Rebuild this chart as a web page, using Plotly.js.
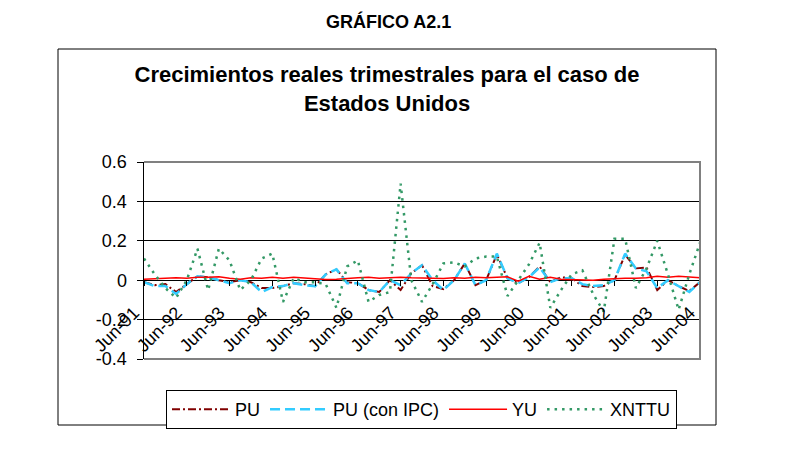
<!DOCTYPE html>
<html>
<head>
<meta charset="utf-8">
<script src="https://cdn.plot.ly/plotly-3.0.1.min.js"></script>
<style>html,body{margin:0;padding:0;background:#fff;}#chart{width:798px;height:459px;}</style>
</head>
<body>
<div id="chart"></div>
<script>
var quarters = ["Jun-91","Sep-91","Dic-91","Mar-92","Jun-92","Sep-92","Dic-92","Mar-93","Jun-93","Sep-93","Dic-93","Mar-94",
"Jun-94","Sep-94","Dic-94","Mar-95","Jun-95","Sep-95","Dic-95","Mar-96","Jun-96","Sep-96","Dic-96","Mar-97",
"Jun-97","Sep-97","Dic-97","Mar-98","Jun-98","Sep-98","Dic-98","Mar-99","Jun-99","Sep-99","Dic-99","Mar-00",
"Jun-00","Sep-00","Dic-00","Mar-01","Jun-01","Sep-01","Dic-01","Mar-02","Jun-02","Sep-02","Dic-02","Mar-03",
"Jun-03","Sep-03","Dic-03","Mar-04","Jun-04"];
var xTickLabels = ["Jun-91","Jun-92","Jun-93","Jun-94","Jun-95","Jun-96","Jun-97","Jun-98","Jun-99","Jun-00","Jun-01","Jun-02","Jun-03","Jun-04"];
var yTickVals = [-0.4,-0.2,0,0.2,0.4,0.6];
var yTickText = ["-0.4","-0.2","0","0.2","0.4","0.6"];
var seriesNames = ["PU","PU (con IPC)","YU","XNTTU"];

var PU = [-0.01,-0.025,-0.02,-0.06,-0.02,0.02,0.015,0.0,-0.01,0.0,
 -0.01,-0.04,-0.04,-0.03,-0.015,-0.02,-0.03,0.03,0.055,-0.01,
 -0.015,-0.05,-0.06,0.0,-0.05,0.035,0.076,-0.03,-0.045,0.0,
 0.085,-0.025,0.0,0.13,0.01,-0.015,0.015,0.07,-0.01,0.015,
 0.01,-0.03,-0.035,-0.03,0.0,0.13,0.06,0.065,-0.05,0.0,
 -0.03,-0.055,-0.01];
var PU_IPC = [-0.01,-0.03,-0.03,-0.07,-0.02,0.02,0.015,0.0,-0.015,0.0,
 -0.01,-0.06,-0.035,-0.03,-0.015,-0.025,-0.03,0.03,0.055,-0.015,
 -0.015,-0.05,-0.06,0.0,-0.025,0.035,0.076,0.0,-0.05,0.0,
 0.085,-0.025,0.0,0.135,0.01,-0.015,0.015,0.065,-0.01,0.01,
 0.01,-0.02,-0.03,-0.025,0.0,0.135,0.06,0.045,-0.04,0.0,
 -0.03,-0.06,-0.01];
var YU = [0.005,0.008,0.01,0.012,0.01,0.015,0.015,0.018,0.01,0.005,
 0.012,0.01,0.015,0.01,0.015,0.01,0.005,0.003,0.005,0.01,
 0.012,0.015,0.01,0.012,0.015,0.012,0.01,0.01,0.008,0.012,
 0.01,0.015,0.012,0.015,0.017,-0.005,0.02,0.005,0.015,0.005,
 0.003,0.002,0.0,0.005,0.008,0.01,0.01,0.012,0.02,0.015,
 0.02,0.015,0.012];
var XNTTU = [0.11,0.03,-0.04,-0.09,0.0,0.16,-0.05,0.16,0.1,-0.05,
 0.0,0.11,0.135,-0.11,0.01,-0.01,-0.01,-0.02,-0.14,0.07,
 0.1,-0.11,-0.075,-0.06,0.49,0.0,-0.11,-0.02,0.085,0.09,
 0.07,0.11,0.12,0.12,-0.08,0.0,0.08,0.19,-0.14,-0.05,
 0.03,0.05,-0.07,-0.16,0.21,0.21,-0.04,0.06,0.2,0.03,
 -0.15,0.03,0.19];

var FONT = "'Liberation Sans', Arial, sans-serif";

var traces = [
 {x: quarters, y: PU, name: seriesNames[0], type:'scatter', mode:'lines',
  line:{color:'#800000', width:2, dash:'8px,3px,2px,3px'}},
 {x: quarters, y: PU_IPC, name: seriesNames[1], type:'scatter', mode:'lines',
  line:{color:'#33CCFF', width:2.5, dash:'10px,5px'}},
 {x: quarters, y: YU, name: seriesNames[2], type:'scatter', mode:'lines',
  line:{color:'#FF0000', width:1.5}},
 {x: quarters, y: XNTTU, name: seriesNames[3], type:'scatter', mode:'lines',
  line:{color:'#339966', width:2.5, dash:'2.5px,5px'}}
];

var layout = {
 width: 798, height: 459,
 paper_bgcolor:'#ffffff', plot_bgcolor:'#ffffff',
 margin:{l:144, r:98, t:162, b:100, autoexpand:false},
 font:{family:FONT, color:'#000'},
 title:{text:'Crecimientos reales trimestrales para el caso de<br>Estados Unidos',
   font:{family:FONT, size:22, color:'#000', weight:'bold'},
   xref:'container', yref:'container', x:0.485, xanchor:'center', y:1-82/459, yanchor:'middle'},
 xaxis:{type:'category', categoryorder:'array', categoryarray:quarters,
   range:[0, quarters.length-1], anchor:'free', position:0.4,
   tickmode:'array', tickvals:xTickLabels, ticktext:xTickLabels, tickangle:-45,
   ticks:'outside', ticklen:5, tickwidth:1, tickcolor:'#000',
   ticklabelstandoff:9, ticklabelshift:-10,
   showgrid:false, showline:false, zeroline:false, automargin:false,
   tickfont:{family:FONT, size:18, color:'#000'}},
 yaxis:{range:[-0.4,0.6], tickmode:'array', tickvals:yTickVals, ticktext:yTickText,
   ticks:'outside', ticklen:6, tickcolor:'#000', tickwidth:1,
   showgrid:true, gridcolor:'#000', gridwidth:1, zeroline:false,
   showline:true, linecolor:'#000', linewidth:1.5, automargin:false,
   ticklabelstandoff:6,
   tickfont:{family:FONT, size:18, color:'#000'}},
 legend:{orientation:'h', x:(166-144)/556, y:(359-390)/197, xanchor:'left', yanchor:'top',
   bordercolor:'#000', borderwidth:1, bgcolor:'#fff', itemwidth:58,
   font:{family:FONT, size:18, color:'#000'}},
 shapes:[
  {type:'rect', xref:'paper', yref:'paper', x0:(58-144)/556, x1:(716-144)/556,
   y0:(359-425)/197, y1:(359-49)/197, line:{color:'#000', width:1}, layer:'below'},
  {type:'path', xref:'paper', yref:'paper', path:'M 0 1 L 1 1 L 1 0 L 0 0',
   line:{color:'#808080', width:2}, layer:'above'}
 ],
 annotations:[
  {text:'<b>GRÁFICO A2.1</b>', xref:'paper', yref:'paper', x:(388-144)/556, y:(359-21)/197,
   xanchor:'center', yanchor:'middle', showarrow:false,
   font:{family:FONT, size:18, color:'#000'}}
 ],
 showlegend:true
};

Plotly.newPlot('chart', traces, layout, {displayModeBar:false, staticPlot:true});
</script>
</body>
</html>
